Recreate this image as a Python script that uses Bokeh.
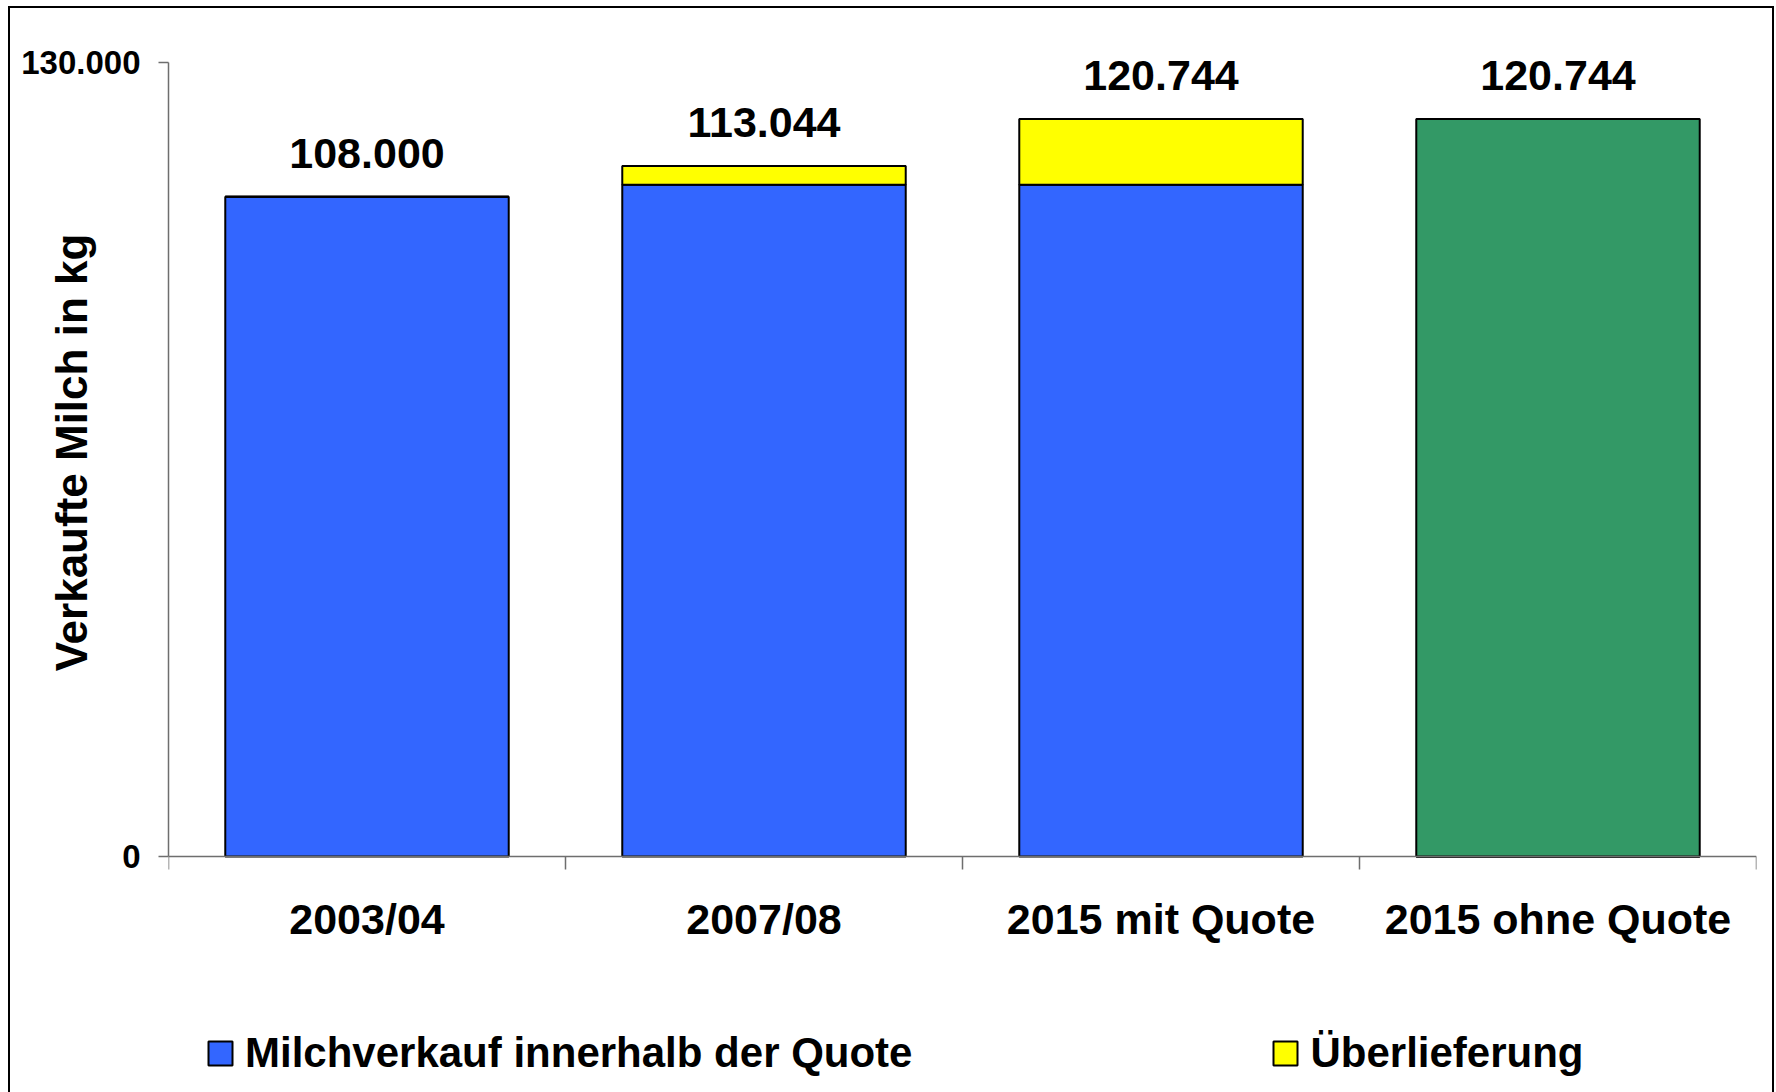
from bokeh.plotting import figure
from bokeh.models import (Range1d, LinearAxis, FixedTicker,
                          ColumnDataSource, LabelSet, Legend, LegendItem)
from bokeh.core.properties import value
from bokeh.embed import file_html
from bokeh.resources import INLINE

# ---- data ----
categories = ["2003/04", "2007/08", "2015 mit Quote", "2015 ohne Quote"]
innerhalb = [108000, 110000, 110000, 0]
ueberlieferung = [0, 3044, 10744, 0]
ohne_quote = [0, 0, 0, 120744]
y_ticks = [0, 130000]
y_tick_labels = ["0", "130.000"]
series_names = ["Milchverkauf innerhalb der Quote", "Überlieferung"]

totals = [a + b + c for a, b, c in zip(innerhalb, ueberlieferung, ohne_quote)]
total_labels = [f"{t:,}".replace(",", ".") for t in totals]
n = len(categories)
xpos = [i + 0.5 for i in range(n)]          # category centres
bounds = list(range(n + 1))                 # category boundaries

# ---- layout (pixels, page coordinates) ----
W, H = 1776, 1092
OFF = 188                                   # canvas starts this far above the page top
PLOT_TOP_PX, PLOT_ZERO_PX = 62, 856         # where the top tick and zero sit on the page
y_lo, y_hi = min(y_ticks), max(y_ticks)
per_px = (y_hi - y_lo) / (PLOT_ZERO_PX - PLOT_TOP_PX)
y_start = y_lo - (H - PLOT_ZERO_PX) * per_px
y_end = y_hi + (PLOT_TOP_PX + OFF) * per_px

FONT = "Liberation Sans"
AXIS_COL = "#6e6e6e"

src = ColumnDataSource(dict(x=xpos, innerhalb=innerhalb, ueber=ueberlieferung,
                            ohne=ohne_quote, total=totals, lab=total_labels))

p = figure(x_range=Range1d(0, n), y_range=Range1d(y_start, y_end),
           width=W, height=H + OFF, output_backend="svg", toolbar_location=None,
           x_axis_location=None, y_axis_location="left",
           min_border_left=168, min_border_right=20, min_border_top=0, min_border_bottom=0)
# outer chart border (left, top, right; bottom edge lies outside the picture)
t_w, t_b = OFF + 6, OFF + 8
p.styles = {
    "margin-top": f"-{OFF}px",
    "box-shadow": (f"inset 8px 0 0 #fff, inset 0 {t_w}px 0 #fff, inset -2px 0 0 #fff, "
                   f"inset 10px 0 0 #000, inset 0 {t_b}px 0 #000, inset -4px 0 0 #000"),
}
p.border_fill_color = None
p.background_fill_color = None
p.outline_line_color = None
p.grid.grid_line_color = None

renderers = p.vbar_stack(["innerhalb", "ueber", "ohne"], x="x", width=0.714, source=src,
                         color=["#3366FF", "#FFFF00", "#339966"],
                         line_color="black", line_width=2)

# category boundary ticks on the zero line
bound_axis = LinearAxis(fixed_location=0, ticker=FixedTicker(ticks=bounds),
                        major_tick_in=0, major_tick_out=13,
                        axis_line_color=AXIS_COL, axis_line_width=1.5,
                        major_tick_line_color=AXIS_COL, major_tick_line_width=1.5,
                        minor_tick_line_color=None,
                        major_label_overrides={b: "" for b in bounds},
                        major_label_text_font_size="0px", major_label_standoff=0)
p.add_layout(bound_axis, "below")

cat_axis = LinearAxis(fixed_location=0, ticker=FixedTicker(ticks=xpos),
                      major_label_overrides={x: c for x, c in zip(xpos, categories)},
                      major_tick_line_color=None, axis_line_color=None,
                      minor_tick_line_color=None, major_tick_in=0, major_tick_out=0,
                      major_label_text_font=FONT, major_label_text_font_size="43px",
                      major_label_text_font_style="bold", major_label_text_color="black",
                      major_label_standoff=38)
p.add_layout(cat_axis, "below")

ya = p.yaxis[0]
ya.bounds = (y_lo, y_hi)
ya.ticker = FixedTicker(ticks=y_ticks)
ya.major_label_overrides = {t: l for t, l in zip(y_ticks, y_tick_labels)}
ya.major_tick_in = 0
ya.major_tick_out = 10
ya.minor_tick_line_color = None
ya.axis_line_color = AXIS_COL
ya.axis_line_width = 1.5
ya.major_tick_line_color = AXIS_COL
ya.major_tick_line_width = 1.5
ya.major_label_text_font = FONT
ya.major_label_text_font_size = "33px"
ya.major_label_text_font_style = "bold"
ya.major_label_text_color = "black"
ya.major_label_standoff = 18
ya.axis_label = "Verkaufte Milch in kg"
ya.axis_label_text_font = FONT
ya.axis_label_text_font_size = "44px"
ya.axis_label_text_font_style = "bold"
ya.axis_label_text_color = "black"
ya.axis_label_standoff = -78

labels = LabelSet(x="x", y="total", text="lab", source=src, y_offset=29,
                  text_align="center", text_baseline="alphabetic",
                  text_font=value(FONT), text_font_size="43px", text_font_style="bold",
                  text_color="black")
p.add_layout(labels)

legend = Legend(items=[LegendItem(label=series_names[0], renderers=[renderers[0]]),
                       LegendItem(label=series_names[1], renderers=[renderers[1]])],
                orientation="horizontal", location=(37, 15),
                glyph_width=30, glyph_height=30, label_standoff=10, spacing=358,
                padding=0, margin=0, border_line_color=None, background_fill_color=None,
                label_text_font=FONT, label_text_font_size="42px",
                label_text_font_style="bold", label_text_color="black")
p.add_layout(legend, "center")

open("out.html", "w").write(file_html(p, INLINE))
